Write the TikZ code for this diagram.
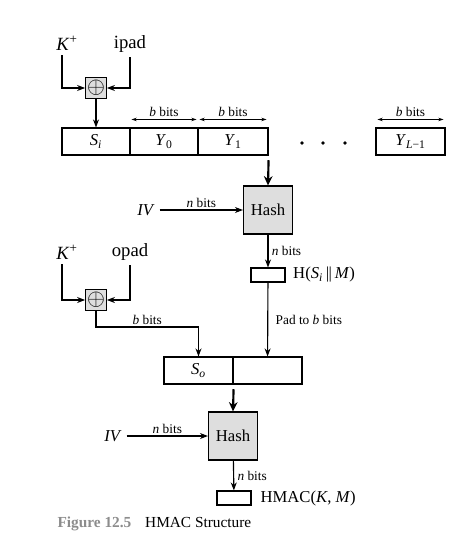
\documentclass[tikz,border=0pt]{standalone}
\usepackage{fontspec}
\setmainfont{Liberation Serif}
\usetikzlibrary{arrows.meta,positioning,calc}
\definecolor{boxgray}{gray}{0.87}
\definecolor{capgray}{gray}{0.55}

\begin{document}
\begin{tikzpicture}[x=0.75pt,y=-0.75pt,line width=0.85pt,>={Stealth[length=6pt,width=4.5pt]},
    every node/.style={font=\fontsize{12.5}{14}\selectfont},
    cellbox/.style={draw,inner sep=0pt,minimum height=20.25pt},
    hashbox/.style={draw,fill=boxgray,inner sep=0pt,minimum width=36.75pt,minimum height=36pt},
    xorbox/.style={draw,fill=boxgray,inner sep=0pt,minimum size=15.5pt,font=\fontsize{17}{17}\selectfont},
    outbox/.style={draw,inner sep=0pt,minimum width=25.5pt,minimum height=10.5pt},
    keytext/.style={font=\fontsize{14}{16}\selectfont},
    lab/.style={font=\fontsize{10}{12}\selectfont,inner sep=1.5pt},
    bitspan/.style={<->,>={Stealth[length=4pt,width=2.6pt]},line width=0.55pt},
    fat/.style={->,line width=1.6pt,>={Stealth[length=7pt,width=6.5pt]}}]
  \useasboundingbox (0,0) rectangle (473,557);
  % ---- inner key ----
  \node[keytext] (kin) at (67,43) {\textit{K}\textsuperscript{+}};
  \node[keytext] (ipad) at (130,44) {ipad};
  \node[xorbox] (xin) at (96,88) {$\oplus$};
  \draw[->] ([xshift=-3.75pt]kin.south) |- (xin.west);
  \draw[->] (ipad.south) |- (xin.east);
  % ---- message blocks ----
  \node[cellbox,minimum width=51pt] (si) at (96,141.5) {\textit{S}\textsubscript{\textit{i}}};
  \node[cellbox,minimum width=51pt] (y0) at (164,141.5) {\textit{Y}\textsubscript{0}};
  \node[cellbox,minimum width=52.5pt] (y1) at (233,141.5) {\textit{Y}\textsubscript{1}};
  \node[cellbox,minimum width=51.75pt] (yl) at (410.5,141.5) {\textit{Y}\textsubscript{\textit{L}−1}};
  \foreach \x in {302,323,345} \fill (\x,143) circle (1.9);
  \draw[->] (xin.south) -- (si.north);
  \foreach \c in {y0,y1,yl}
    \draw[bitspan] ([xshift=1.5pt,yshift=6pt]\c.north west) -- node[lab,above]{\textit{b} bits} ([xshift=-1.5pt,yshift=6pt]\c.north east);
  % ---- inner hash ----
  \node[hashbox] (hin) at (268,210) {Hash};
  \node (ivin) at (146,210) {\textit{IV}};
  \node[outbox] (oin) at (268,275) {};
  \node[anchor=west,xshift=2pt] (hsm) at (oin.east) {H(\textit{S}\textsubscript{\textit{i}}\,|\kern-0.4pt|\,\textit{M})};
  \draw[fat] ([yshift=-3.5pt]y1.south east) -- (hin.north);
  \draw[->] (ivin) -- node[lab,above]{\textit{n} bits} (hin);
  \draw[->] (hin) -- node[lab,right,xshift=1pt]{\textit{n} bits} (oin);
  % ---- outer key ----
  \node[keytext] (kout) at (67,252) {\textit{K}\textsuperscript{+}};
  \node[keytext] (opad) at (130,252) {opad};
  \node[xorbox] (xout) at (96,300) {$\oplus$};
  \draw[->] ([xshift=-3.75pt]kout.south) |- (xout.west);
  \draw[->] (opad.south) |- (xout.east);
  % ---- outer blocks ----
  \node[cellbox,minimum width=51.75pt] (so) at (198.5,370.5) {\textit{S}\textsubscript{\textit{o}}};
  \node[cellbox,minimum width=51.75pt] (pad) at (267.5,370.5) {};
  \coordinate (bend) at (96,327);
  \draw[->] (xout.south) -- (bend) -| node[lab,above,pos=0.25]{\textit{b} bits} (so.north);
  \draw[->] (oin) -- node[lab,right,xshift=4pt]{Pad to \textit{b} bits} (pad);
  % ---- outer hash ----
  \node[hashbox] (hout) at (233,436) {Hash};
  \node (ivout) at (113,436) {\textit{IV}};
  \node[outbox] (oout) at (234,498) {};
  \node[anchor=west,xshift=3pt] (hmac) at (oout.east) {HMAC(\textit{K}, \textit{M})};
  \draw[fat] ([yshift=-3.5pt]so.south east) -- (hout.north);
  \draw[->] (ivout) -- node[lab,above]{\textit{n} bits} (hout);
  \draw[->] (hout) -- node[lab,right,xshift=1pt]{\textit{n} bits} (oout);
  % ---- caption ----
  \node[anchor=west,inner sep=0pt,font=\fontsize{11.5}{13}\selectfont] (cap) at (57,524)
       {\textcolor{capgray}{\textbf{Figure 12.5}}\hspace{0.9em}HMAC Structure};
\end{tikzpicture}
\end{document}
